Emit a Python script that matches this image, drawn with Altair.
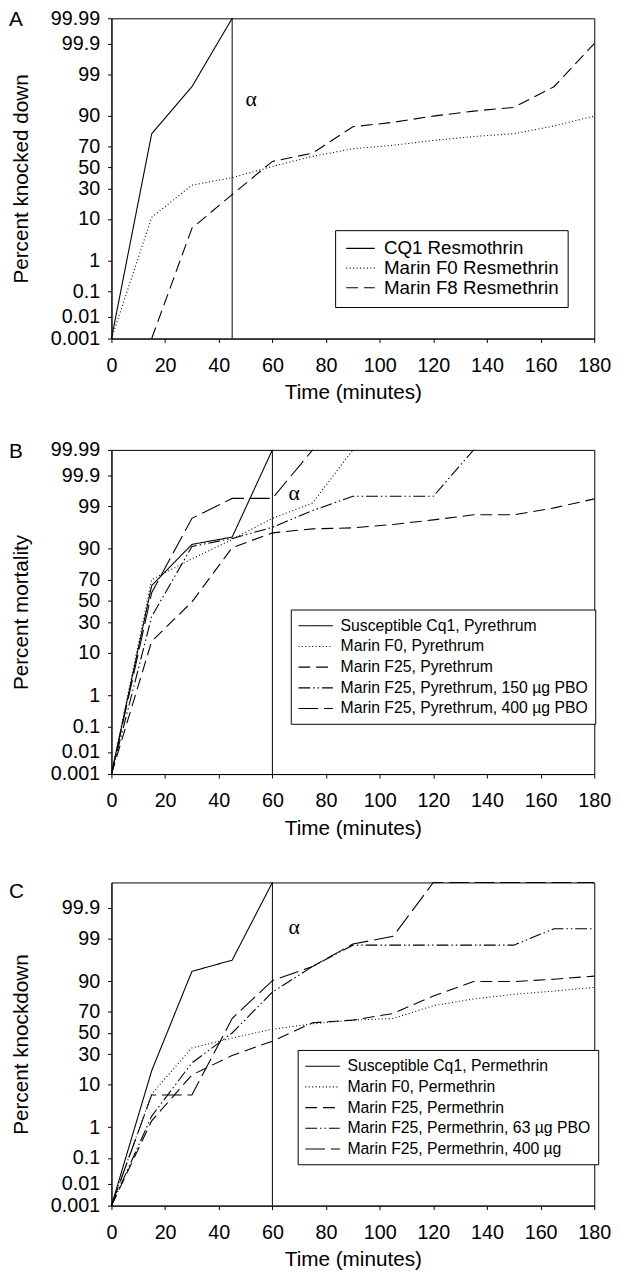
import altair as alt
import pandas as pd
from statistics import NormalDist

_ND = NormalDist()


def probit(p):
    return _ND.inv_cdf(p / 100.0)


# ---------------- axis ticks ----------------
Y_TICK_PCTS = [0.001, 0.01, 0.1, 1, 10, 30, 50, 70, 90, 99, 99.9, 99.99]
Y_TICK_LABELS = ["0.001", "0.01", "0.1", "1", "10", "30", "50", "70", "90", "99", "99.9", "99.99"]
X_TICKS = [0, 20, 40, 60, 80, 100, 120, 140, 160, 180]

# ---------------- Panel A ----------------
A_NAMES = ["CQ1 Resmothrin", "Marin F0 Resmethrin", "Marin F8 Resmethrin"]
A_CQ1_T = [0, 15, 30, 45]
A_CQ1_P = [0.001, 80, 97.8, 99.99]
A_F0_T = [0, 15, 30, 45, 60, 75, 90, 105, 120, 135, 150, 165, 180]
A_F0_P = [0.001, 10.7, 33, 40, 51, 61, 68, 71, 75, 78, 80, 85, 90]
A_F8_T = [15, 30, 45, 60, 75, 90, 105, 120, 135, 150, 165, 180]
A_F8_P = [0.001, 6.5, 25, 56, 64, 84.5, 87, 90, 92, 93.3, 97.8, 99.9]
A_ALPHA_T = [45]
A_ALPHA_LABEL = [50, 95.6]

# ---------------- Panel B ----------------
B_NAMES = ["Susceptible Cq1, Pyrethrum", "Marin F0, Pyrethrum", "Marin F25, Pyrethrum",
           "Marin F25, Pyrethrum, 150 µg PBO", "Marin F25, Pyrethrum, 400 µg PBO"]
B_S_T = [0, 15, 30, 45, 60]
B_S_P = [0.001, 64.7, 91.8, 94.2, 99.99]
B_F0_T = [0, 15, 30, 45, 60, 75, 90]
B_F0_P = [0.001, 70, 85, 93.5, 97.9, 99.2, 99.99]
B_F25_T = [0, 15, 30, 45, 60, 75, 90, 105, 120, 135, 150, 165, 180]
B_F25_P = [0.001, 16, 49, 90.5, 95.3, 96.2, 96.4, 97, 97.7, 98.3, 98.3, 98.9, 99.4]
B_150_T = [0, 15, 30, 45, 60, 75, 90, 105, 120, 135]
B_150_P = [0.001, 35, 91, 93.8, 96.5, 98.7, 99.5, 99.5, 99.5, 99.99]
B_400_T = [0, 15, 30, 45, 60, 75]
B_400_P = [0.001, 58, 97.9, 99.42, 99.42, 99.99]
B_ALPHA_T = [60]
B_ALPHA_LABEL = [66, 99.6]

# ---------------- Panel C ----------------
C_NAMES = ["Susceptible Cq1, Permethrin", "Marin F0, Permethrin", "Marin F25, Permethrin",
           "Marin F25, Permethrin, 63 µg PBO", "Marin F25, Permethrin, 400 µg"]
C_S_T = [0, 15, 30, 45, 60]
C_S_P = [0.001, 17.6, 93.6, 96.4, 99.99]
C_F0_T = [0, 15, 30, 45, 60, 75, 90, 105, 120, 135, 150, 165, 180]
C_F0_P = [0.001, 6.6, 35.6, 45, 53.7, 59, 62.5, 64, 75, 80, 83, 85, 87]
C_F25_T = [0, 15, 30, 45, 60, 75, 90, 105, 120, 135, 150, 165, 180]
C_F25_P = [0.001, 1.5, 15, 29, 42, 60, 62.5, 68.5, 82, 89.8, 89.8, 90.8, 92]
C_63_T = [0, 15, 30, 45, 60, 75, 90, 105, 120, 135, 150, 165, 180]
C_63_P = [0.001, 2, 23, 50, 84.4, 95, 98.5, 98.5, 98.5, 98.5, 98.5, 99.5, 99.5]
C_400_T = [0, 15, 30, 45, 60, 75, 90, 105, 120, 135, 150, 165, 180]
C_400_P = [0.001, 6.3, 6.3, 64, 90.2, 95, 98.6, 99.15, 99.99, 99.99, 99.99, 99.99, 99.99]
C_ALPHA_T = [60]
C_ALPHA_LABEL = [66, 99.57]

# ---------------- styles ----------------
DASH_A = [[1, 0], [1, 2.5], [12, 6]]
WIDTH_A = [1.1, 1.1, 1.2]
DASH_BC = [[1, 0], [1, 2.5], [12, 6], [12, 3, 1.5, 3, 1.5, 3], [20, 6]]
WIDTH_BC = [1.1, 1.1, 1.3, 1.2, 1.6]
LEGEND_LINE = "M-1,0H3"   # horizontal line twice as long as sqrt(symbolSize)

FONT = "Liberation Sans"
Y_LO = probit(0.001)
Y_HI = probit(99.99)


def build_df(names, series):
    rows = []
    for name, (ts, ps) in zip(names, series):
        for t, p in zip(ts, ps):
            rows.append({"time": t, "pct": p, "probit": probit(p), "series": name})
    return pd.DataFrame(rows)


def label_expr(pcts, labels):
    expr = "''"
    for p, lab in reversed(list(zip(pcts, labels))):
        expr = f"abs(datum.value - ({probit(p):.6f})) < 0.001 ? '{lab}' : ({expr})"
    return expr


def panel(letter, ytitle, names, series, dashes, widths, alpha_t, alpha_lab,
          legend_xy, legend_font, sym_len, row_pad, leg_pad, height, tick_pcts, tick_labels):
    df = build_df(names, series)
    yticks = [probit(p) for p in tick_pcts]
    xscale = alt.Scale(domain=[0, 180], nice=False, zero=False)
    yscale = alt.Scale(domain=[Y_LO, Y_HI], nice=False, zero=False)
    half = sym_len / 2.0
    leg = alt.Legend(
        orient="none", legendX=legend_xy[0], legendY=legend_xy[1], title=None,
        strokeColor="black", fillColor="white", padding=leg_pad, cornerRadius=0,
        labelFont=FONT, labelFontSize=legend_font, labelColor="black", labelLimit=500,
        labelOffset=half + 7, symbolType=LEGEND_LINE, symbolSize=half * half,
        symbolStrokeColor="black", symbolFillColor="transparent",
        rowPadding=row_pad,
    )
    xaxis = alt.Axis(values=X_TICKS, title="Time (minutes)", labelPadding=13,
                     titlePadding=7, labelFlush=False, labelOverlap=False)
    yaxis = alt.Axis(values=yticks, labelExpr=label_expr(tick_pcts, tick_labels),
                     title=ytitle, labelPadding=8, titlePadding=19,
                     labelOverlap=False, labelFlush=False)
    lines = alt.Chart(df).mark_line(color="black").encode(
        x=alt.X("time:Q", scale=xscale, axis=xaxis),
        y=alt.Y("probit:Q", scale=yscale, axis=yaxis),
        strokeDash=alt.StrokeDash("series:N", scale=alt.Scale(domain=names, range=dashes), legend=leg),
        strokeWidth=alt.StrokeWidth("series:N", scale=alt.Scale(domain=names, range=widths), legend=leg),
    )
    rule = alt.Chart(pd.DataFrame({"t": alpha_t})).mark_rule(color="black", strokeWidth=1).encode(
        x=alt.X("t:Q", scale=xscale, axis=xaxis)
    )
    atext = alt.Chart(pd.DataFrame({"t": [alpha_lab[0]], "p": [probit(alpha_lab[1])], "s": ["α"]})).mark_text(
        font="Liberation Serif", fontSize=22, color="black", align="left", baseline="middle"
    ).encode(
        x=alt.X("t:Q", scale=xscale, axis=xaxis),
        y=alt.Y("p:Q", scale=yscale, axis=yaxis),
        text="s:N",
    )
    return alt.layer(lines, rule, atext).properties(
        width=490, height=height,
        title=alt.TitleParams(letter, anchor="start", frame="bounds", orient="top",
                              baseline="top", dx=-2, offset=-22,
                              font=FONT, fontSize=21, fontWeight="normal", color="black"),
    )


pa = panel("A", "Percent knocked down", A_NAMES,
           [(A_CQ1_T, A_CQ1_P), (A_F0_T, A_F0_P), (A_F8_T, A_F8_P)],
           DASH_A, WIDTH_A, A_ALPHA_T, A_ALPHA_LABEL, (227, 215), 19, 29, -2, 9, 325,
           Y_TICK_PCTS, Y_TICK_LABELS)
pb = panel("B", "Percent mortality", B_NAMES,
           [(B_S_T, B_S_P), (B_F0_T, B_F0_P), (B_F25_T, B_F25_P), (B_150_T, B_150_P), (B_400_T, B_400_P)],
           DASH_BC, WIDTH_BC, B_ALPHA_T, B_ALPHA_LABEL, (182, 162), 16, 35, 3, 7, 329,
           Y_TICK_PCTS, Y_TICK_LABELS)
pc = panel("C", "Percent knockdown", C_NAMES,
           [(C_S_T, C_S_P), (C_F0_T, C_F0_P), (C_F25_T, C_F25_P), (C_63_T, C_63_P), (C_400_T, C_400_P)],
           DASH_BC, WIDTH_BC, C_ALPHA_T, C_ALPHA_LABEL, (189, 170), 16, 35, 3, 7, 328,
           Y_TICK_PCTS[:-1], Y_TICK_LABELS[:-1])

top_pair = alt.vconcat(pa, pb, spacing=36).resolve_scale(
    strokeDash="independent", strokeWidth="independent"
).resolve_legend(
    strokeDash="independent", strokeWidth="independent"
)

chart = alt.vconcat(top_pair, pc, spacing=41).resolve_scale(
    strokeDash="independent", strokeWidth="independent"
).resolve_legend(
    strokeDash="independent", strokeWidth="independent"
).properties(
    padding={"left": 0, "top": -10, "right": 0, "bottom": 0}
).configure(
    font=FONT
).configure_axis(
    labelFont=FONT, labelFontSize=20, labelColor="black",
    titleFont=FONT, titleFontSize=21, titleFontWeight="normal", titleColor="black",
    domainColor="black", tickColor="black", tickSize=4, grid=False, labelOverlap=False,
).configure_view(
    stroke="black", strokeWidth=1
)

chart.save("out.html", embed_options={"renderer": "svg", "actions": False})
